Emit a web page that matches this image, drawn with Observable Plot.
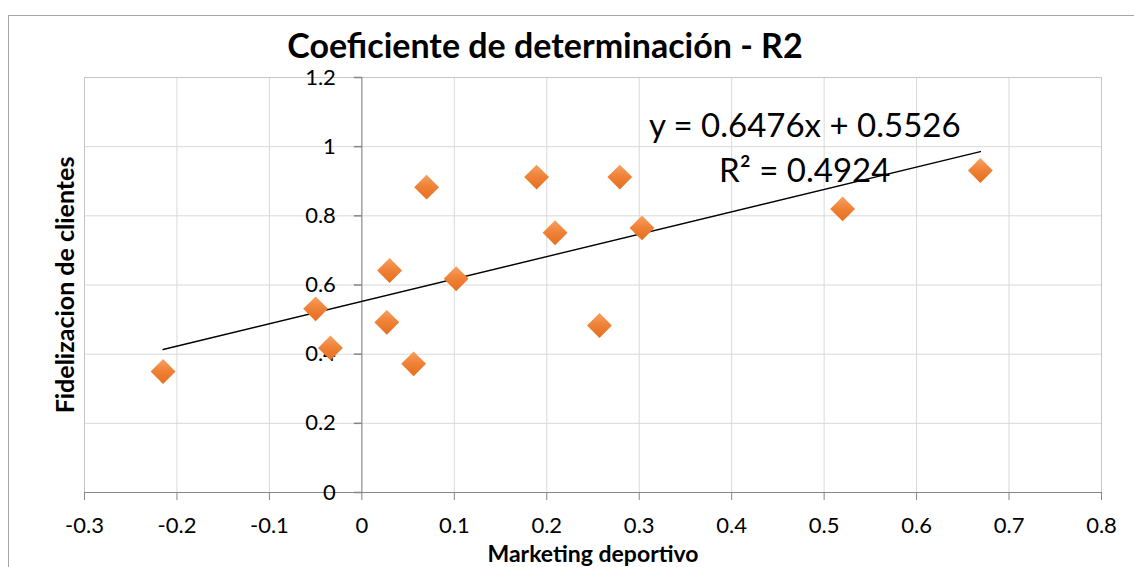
<!DOCTYPE html>
<html><head><meta charset="utf-8">
<script src="https://cdn.jsdelivr.net/npm/d3@7"></script>
<script src="https://cdn.jsdelivr.net/npm/@observablehq/plot@0.6"></script>
<style>
html,body{margin:0;padding:0;background:#fff;}
#wrap{position:relative;width:1134px;height:567px;overflow:hidden;font-family:Lato, sans-serif;}
#border{position:absolute;left:8px;top:15px;width:1200px;height:700px;border-left:1px solid #a6a6a6;border-top:1px solid #a6a6a6;pointer-events:none;}
#title{height:60px;box-sizing:border-box;padding-top:28px;padding-right:44px;text-align:center;font-size:34px;line-height:34px;font-weight:bold;color:#000;white-space:nowrap;}
#chart{position:relative;height:507px;}
</style></head>
<body><div id="wrap"><div id="border"></div><div id="title"></div><div id="chart"></div></div>
<script>
const titleText = "Coeficiente de determinación - R2";
const xLabel = "Marketing deportivo";
const yLabel = "Fidelizacion de clientes";

const marketing    = [-0.215, -0.050, -0.034, 0.027, 0.030, 0.056, 0.070, 0.102, 0.189, 0.209, 0.257, 0.279, 0.303, 0.520, 0.669];
const fidelizacion = [ 0.350,  0.531,  0.418, 0.492, 0.642, 0.372, 0.883, 0.618, 0.912, 0.751, 0.483, 0.912, 0.765, 0.820, 0.931];

const xTicks = [-0.3, -0.2, -0.1, 0, 0.1, 0.2, 0.3, 0.4, 0.5, 0.6, 0.7, 0.8];
const xTickLabels = ["-0.3", "-0.2", "-0.1", "0", "0.1", "0.2", "0.3", "0.4", "0.5", "0.6", "0.7", "0.8"];
const yTicks = [0, 0.2, 0.4, 0.6, 0.8, 1, 1.2];
const yTickLabels = ["0", "0.2", "0.4", "0.6", "0.8", "1", "1.2"];

const trendSlope = 0.6476;
const trendIntercept = 0.5526;
const rSquared = 0.4924;
const eqLabelX = 0.479;
const eqLabelY = 1.004;

document.getElementById("title").textContent = titleText;

const points = marketing.map((x, i) => ({x, y: fidelizacion[i]}));
const xMin = d3.min(marketing), xMax = d3.max(marketing);
const trend = [xMin, xMax].map(x => ({x, y: trendSlope * x + trendIntercept}));
const eqText = `y = ${trendSlope}x + ${trendIntercept}\nR² = ${rSquared}`;

const leftTick = {draw(ctx) { ctx.moveTo(-8, 0); ctx.lineTo(0, 0); }};

const chart = Plot.plot({
  width: 1134,
  height: 507,
  marginLeft: 84,
  marginRight: 33,
  marginTop: 17,
  marginBottom: 75,
  style: {fontFamily: "Lato, sans-serif", fontSize: "22px", color: "#000", background: "transparent", overflow: "visible"},
  x: {domain: [xTicks[0], xTicks[xTicks.length - 1]]},
  y: {domain: [yTicks[0], yTicks[yTicks.length - 1]], axis: null},
  marks: [
    Plot.gridX(xTicks, {stroke: "#d9d9d9", strokeOpacity: 1}),
    Plot.gridY(yTicks, {stroke: "#d9d9d9", strokeOpacity: 1}),
    Plot.frame({stroke: "#c6c6c6"}),
    Plot.ruleY([0], {stroke: "#868686"}),
    Plot.ruleX([0], {stroke: "#868686"}),
    Plot.axisX(xTicks, {
      tickSize: 8, tickPadding: 17, stroke: "#868686", fill: "#000", fontSize: 22,
      tickFormat: d => xTickLabels[xTicks.indexOf(d)], label: null
    }),
    Plot.dot(yTicks, {x: () => 0, y: d => d, symbol: leftTick, stroke: "#868686", fill: "none", r: 1}),
    Plot.text(yTicks, {x: () => 0, y: d => d, text: d => yTickLabels[yTicks.indexOf(d)], textAnchor: "end", dx: -26, fontSize: 22, fill: "#000"}),
    Plot.line(trend, {x: "x", y: "y", stroke: "#000", strokeWidth: 1.4}),
    Plot.dot(points, {x: "x", y: "y", symbol: "diamond2", r: 11.2, fill: "url(#diamondGrad)", stroke: "none"}),
    Plot.text([eqText], {x: () => eqLabelX, y: () => eqLabelY, text: d => d, textAnchor: "middle", lineAnchor: "middle", lineHeight: 1.35, fontSize: 33, fill: "#000"}),
    Plot.text([xLabel], {frameAnchor: "bottom", lineAnchor: "bottom", dy: 69.5, text: d => d, fontSize: 23, fontWeight: "bold", fill: "#000"}),
    Plot.text([yLabel], {frameAnchor: "left", dx: -19, rotate: -90, textAnchor: "middle", text: d => d, fontSize: 25, fontWeight: "bold", fill: "#000"})
  ]
});

const ns = "http://www.w3.org/2000/svg";
const defs = document.createElementNS(ns, "defs");
defs.innerHTML = '<linearGradient id="diamondGrad" x1="0" y1="0" x2="0" y2="1"><stop offset="0" stop-color="#f6a062"/><stop offset="0.5" stop-color="#ef8035"/><stop offset="1" stop-color="#e56f1e"/></linearGradient>';
chart.insertBefore(defs, chart.firstChild);
document.getElementById("chart").appendChild(chart);
</script>
</body></html>
